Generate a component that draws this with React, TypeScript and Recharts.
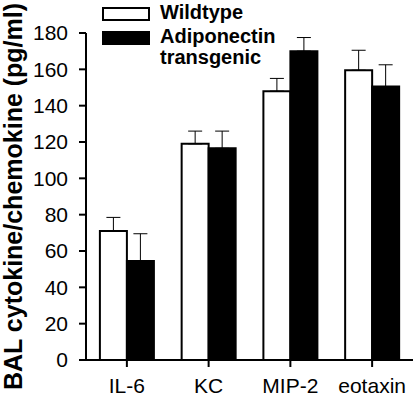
import React from "react";
import { BarChart, Bar, XAxis, YAxis, ErrorBar } from "recharts";

const categories = ["IL-6", "KC", "MIP-2", "eotaxin"];
const wildtype = [71, 119, 148, 159.5];
const wildtypeErr = [7.5, 7, 7, 11];
const transgenic = [54.5, 116.5, 170, 150.5];
const transgenicErr = [15, 9.5, 7.5, 12];
const yTicks = [0, 20, 40, 60, 80, 100, 120, 140, 160, 180];

const series = [
  { key: "wildtype", name: "Wildtype", fill: "#ffffff" },
  { key: "transgenic", name: "Adiponectin transgenic", fill: "#000000" },
];

const data = categories.map((name, i) => ({
  name,
  wildtype: wildtype[i],
  wildtypeErr: [0, wildtypeErr[i]],
  transgenic: transgenic[i],
  transgenicErr: [0, transgenicErr[i]],
}));

const FONT = "'Liberation Sans', Arial, sans-serif";

const LegendBox = () => (
  <div style={{ position: "absolute", left: 102, top: 2, fontFamily: FONT, fontWeight: "bold", fontSize: 20, lineHeight: "21px" }}>
    {series.map((s) => (
      <div key={s.key} style={{ display: "flex", alignItems: "flex-start", marginBottom: 3 }}>
        <div
          style={{
            width: 44,
            height: 10,
            marginTop: 5,
            background: s.fill,
            border: "2px solid #000",
            boxSizing: "content-box",
            flex: "none",
          }}
        />
        <div style={{ marginLeft: 10, width: 125 }}>{s.name}</div>
      </div>
    ))}
  </div>
);

const App = () => {
  return (
    <div style={{ position: "absolute", left: 0, top: 0, width: 415, height: 404, background: "#fff" }}>
      <BarChart
        width={415}
        height={404}
        data={data}
        margin={{ top: 33, right: 2, left: 0, bottom: 0 }}
        barCategoryGap="17%"
        barGap={0}
      >
        <XAxis
          dataKey="name"
          height={44}
          tickSize={7}
          tickMargin={11}
          axisLine={{ stroke: "#000", strokeWidth: 2 }}
          tickLine={{ stroke: "#000", strokeWidth: 2 }}
          tick={{ fill: "#000", fontSize: 21, fontFamily: FONT }}
        />
        <YAxis
          width={86}
          domain={[0, 180]}
          ticks={yTicks}
          interval={0}
          tickSize={7}
          tickMargin={11}
          axisLine={{ stroke: "#000", strokeWidth: 2 }}
          tickLine={{ stroke: "#000", strokeWidth: 2 }}
          tick={{ fill: "#000", fontSize: 21, fontFamily: FONT }}
          label={{
            value: "BAL cytokine/chemokine (pg/ml)",
            angle: -90,
            position: "insideLeft",
            offset: 13,
            style: { textAnchor: "middle", fontSize: 25, fontWeight: "bold", fontFamily: FONT, fill: "#000" },
          }}
        />
        {series.map((s) => (
          <Bar
            key={s.key}
            dataKey={s.key}
            name={s.name}
            fill={s.fill}
            stroke="#000"
            strokeWidth={2}
            isAnimationActive={false}
          >
            <ErrorBar dataKey={s.key + "Err"} width={7} stroke="#000" strokeWidth={1} direction="y" />
          </Bar>
        ))}
      </BarChart>
      <LegendBox />
    </div>
  );
};

export default App;
